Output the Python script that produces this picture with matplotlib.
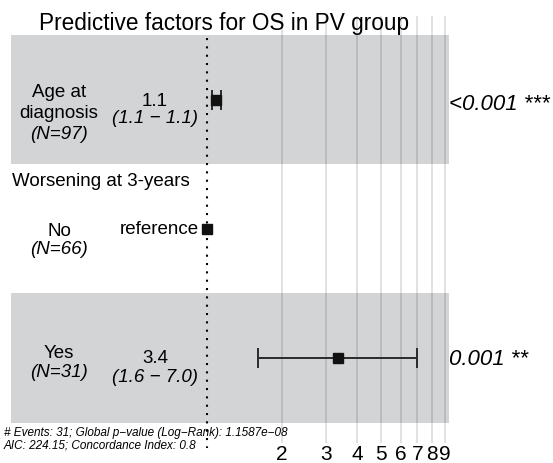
import numpy as np
import matplotlib
matplotlib.use("Agg")
import matplotlib.pyplot as plt
from matplotlib.patches import Rectangle

plt.rcParams['font.family'] = ['Liberation Sans', 'DejaVu Sans']

# --- data ---
title = "Predictive factors for OS in PV group"
group_header = "Worsening at 3-years"
row_labels = ["Age at\ndiagnosis", "No", "Yes"]
row_n = [97, 66, 31]
hazard = [1.09, 1.0, 3.36]
ci_low = [1.05, np.nan, 1.6]
ci_high = [1.14, np.nan, 6.98]
est_text = ["1.1", "reference", "3.4"]
ci_text = ["(1.1 \u2212 1.1)", "", "(1.6 \u2212 7.0)"]
p_text = ["<0.001 ***", "", "0.001 **"]
tick_vals = [2, 3, 4, 5, 6, 7, 8, 9]
footnote = ["# Events: 31; Global p\u2212value (Log\u2212Rank): 1.1587e\u221208",
            "AIC: 224.15; Concordance Index: 0.8"]

W, H = 553, 463
X1, PX_DEC = 207, 249       # pixel of HR = 1, pixels per decade
Y0, PX_ROW = 99.5, 129.25   # pixel centre of first row, pixels per row


def xdat(px):
    return 10 ** ((px - X1) / PX_DEC)


def ydat(py):
    return (py - Y0) / PX_ROW


fig = plt.figure(figsize=(W / 100, H / 100), dpi=100)
ax = fig.add_axes([0, 0, 1, 1])
ax.set_xscale('log')
ax.set_xlim(xdat(0), xdat(W))
ax.set_ylim(ydat(H), ydat(0))
ax.axis('off')

rows = np.arange(len(row_labels))

# shaded bands on alternating rows
for r in rows[::2]:
    ax.add_patch(Rectangle((xdat(11), r - 0.5), xdat(449) - xdat(11), 1,
                           facecolor='#d3d4d6', edgecolor='none', zorder=0))

# vertical grid + reference line
ax.vlines(tick_vals, ydat(16), ydat(443), color='black', alpha=0.12,
          lw=1.4, zorder=1)
ax.vlines(1, ydat(38), ydat(448), color='black', lw=1.5,
          linestyles=(0, (1, 3)), zorder=2)

# estimates with confidence intervals
has_ci = ~np.isnan(ci_low)
hz = np.array(hazard)
lo = np.array(ci_low)
hi = np.array(ci_high)
ax.errorbar(hz[has_ci], rows[has_ci],
            xerr=[hz[has_ci] - lo[has_ci], hi[has_ci] - hz[has_ci]],
            fmt='s', ms=6.5, color='#111111', ecolor='#2a2a2a',
            elinewidth=1.4, capsize=7.2, capthick=1.4, zorder=3)
ax.plot(hz[~has_ci], rows[~has_ci], 's', ms=6.5, color='#111111', zorder=3)

# text columns
fs = 13.5
name_x, est_x, p_x = xdat(59), xdat(155), xdat(449)
lab_y = [[97, 118], [236], [358]]
n_y = [139, 254, 377]
for i, r in enumerate(rows):
    for line, yy in zip(row_labels[i].split("\n"), lab_y[i]):
        ax.text(name_x, ydat(yy), line, ha='center', va='baseline', fontsize=fs)
    ax.text(name_x, ydat(n_y[i]), "(N=%d)" % row_n[i], ha='center',
            va='baseline', fontsize=fs, style='italic')

ax.text(est_x, ydat(106), est_text[0], ha='center', va='baseline', fontsize=fs)
ax.text(est_x, ydat(123), ci_text[0], ha='center', va='baseline', fontsize=fs,
        style='italic')
ax.text(xdat(199), ydat(234), est_text[1], ha='right', va='baseline',
        fontsize=fs)
ax.text(est_x, ydat(363), est_text[2], ha='center', va='baseline', fontsize=fs)
ax.text(est_x, ydat(382), ci_text[2], ha='center', va='baseline', fontsize=fs,
        style='italic')

ax.text(p_x, ydat(110), p_text[0], ha='left', va='baseline', fontsize=16,
        style='italic')
ax.text(p_x, ydat(365), p_text[2], ha='left', va='baseline', fontsize=16,
        style='italic')

ax.text(xdat(12), ydat(186), group_header, ha='left', va='baseline',
        fontsize=fs)

# x tick labels
for t in tick_vals:
    ax.text(t, ydat(460), str(t), ha='center', va='baseline', fontsize=15)

ax.text(xdat(224), ydat(30), title, ha='center', va='baseline', fontsize=16.3)

for line, yy in zip(footnote, [436, 448]):
    ax.text(xdat(4), ydat(yy), line, ha='left', va='baseline', fontsize=8.5,
            style='italic')

fig.savefig("out.png", dpi=100)
